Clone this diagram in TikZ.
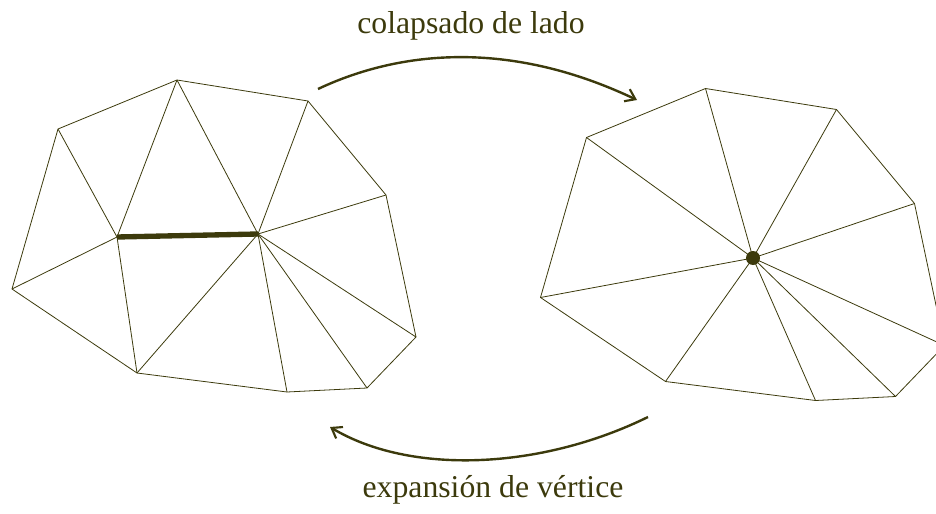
\documentclass[tikz,border=0pt]{standalone}
\usepackage{fontspec}
\setmainfont{Liberation Serif}
\usepackage{xcolor}
\usetikzlibrary{arrows.meta}
\definecolor{olive}{RGB}{60,58,12}

\begin{document}
\begin{tikzpicture}[
    x=0.75pt, y=-0.75pt,
    edge/.style={draw=olive,line width=0.6pt},
    thickedge/.style={draw=olive,line width=4pt},
    arr/.style={-{Straight Barb[length=7pt,width=10pt,line width=1.6pt]},draw=olive,line width=1.8pt},
    lbl/.style={text=olive,font=\fontsize{23.8}{28}\selectfont,anchor=base,inner sep=0pt}
]
\useasboundingbox (0,0) rectangle (936,514);
\clip (0,0) rectangle (936,514);

% mesh before
\begin{scope}
\coordinate (a1) at (58,129);
\coordinate (b1) at (177,80);
\coordinate (c1) at (308,101);
\coordinate (d1) at (386,195);
\coordinate (e1) at (416,337);
\coordinate (f1) at (367,388);
\coordinate (g1) at (287,392);
\coordinate (h1) at (137,373);
\coordinate (i1) at (12,289);
\coordinate (p1) at (117,237);
\coordinate (q1) at (258,234);
\draw[edge] (a1) -- (b1) -- (c1) -- (d1) -- (e1) -- (f1) -- (g1) -- (h1) -- (i1) -- cycle;
\draw[edge] (a1) -- (p1);
\draw[edge] (b1) -- (p1);
\draw[edge] (h1) -- (p1);
\draw[edge] (i1) -- (p1);
\draw[edge] (b1) -- (q1);
\draw[edge] (c1) -- (q1);
\draw[edge] (d1) -- (q1);
\draw[edge] (e1) -- (q1);
\draw[edge] (f1) -- (q1);
\draw[edge] (g1) -- (q1);
\draw[edge] (h1) -- (q1);
\draw[thickedge] (p1) -- (q1);
\end{scope}

% mesh after
\begin{scope}[shift={(528.5,8.5)}]
\coordinate (a2) at (58,129);
\coordinate (b2) at (177,80);
\coordinate (c2) at (308,101);
\coordinate (d2) at (386,195);
\coordinate (e2) at (416,337);
\coordinate (f2) at (367,388);
\coordinate (g2) at (287,392);
\coordinate (h2) at (137,373);
\coordinate (i2) at (12,289);
\coordinate (v2) at (224.5,249.5);
\draw[edge] (a2) -- (b2) -- (c2) -- (d2) -- (e2) -- (f2) -- (g2) -- (h2) -- (i2) -- cycle;
\draw[edge] (a2) -- (v2);
\draw[edge] (b2) -- (v2);
\draw[edge] (c2) -- (v2);
\draw[edge] (d2) -- (v2);
\draw[edge] (e2) -- (v2);
\draw[edge] (f2) -- (v2);
\draw[edge] (g2) -- (v2);
\draw[edge] (h2) -- (v2);
\draw[edge] (i2) -- (v2);
\fill[olive] (v2) circle (7);
\end{scope}

% arrows and labels
\coordinate (s1) at (318,89);
\coordinate (t1) at (637,100);
\coordinate (s2) at (648,417);
\coordinate (t2) at (330,427);
\draw[arr] (s1) .. controls (390,55) and (500,35) .. (t1);
\draw[arr] (s2) .. controls (540,470) and (410,475) .. (t2);
\node[lbl] (collapse) at (471,33) {colapsado de lado};
\node[lbl] (expand) at (493,497) {expansión de vértice};
\end{tikzpicture}
\end{document}
